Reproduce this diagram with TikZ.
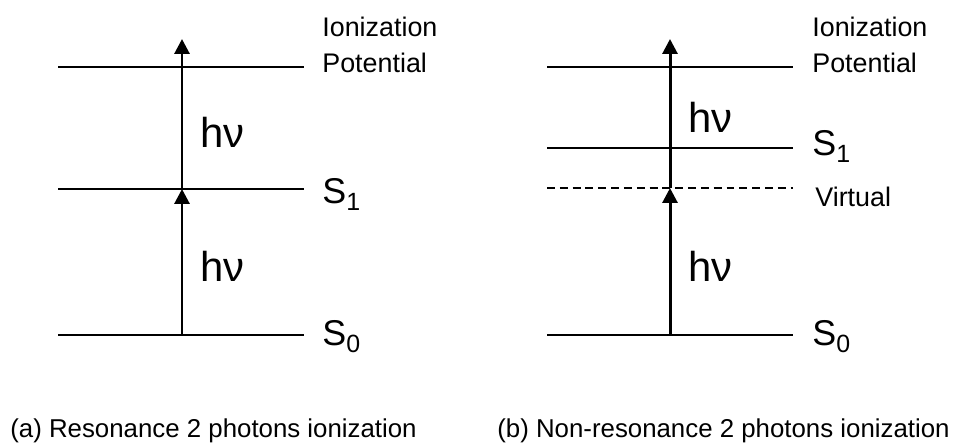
\documentclass[tikz,border=0pt]{standalone}
\usepackage{fontspec}
\setmainfont{Liberation Sans}
\usetikzlibrary{arrows.meta, positioning}

\tikzset{
  lvline/.style={line width=1.1pt},
  virtline/.style={line width=1.1pt, dash pattern=on 4.5pt off 2.8pt},
  photon/.style={line width=1.7pt, -{Triangle[length=8.5pt,width=8.5pt]}},
  hnu/.style={anchor=base west, inner sep=0pt, font=\fontsize{23.8}{28}\selectfont},
  lvlabel/.style={anchor=base west, inner sep=0pt, font=\fontsize{20.4}{24}\selectfont},
  smalllabel/.style={anchor=base west, inner sep=0pt, font=\fontsize{15.3}{18}\selectfont},
  captext/.style={anchor=base west, inner sep=0pt, font=\fontsize{14.7}{18}\selectfont},
}
\newcommand{\sublevel}[1]{\raisebox{-4pt}{\fontsize{14.2}{16}\selectfont #1}}

\begin{document}
\begin{tikzpicture}[x=0.02cm, y=-0.02cm]
  \useasboundingbox (0,0) rectangle (960,444);

  % (a) resonance: levels
  \coordinate (aIPw) at (58,67);  \coordinate (aIPe) at (304,67);
  \coordinate (aS1w) at (58,189); \coordinate (aS1e) at (304,189);
  \coordinate (aS0w) at (58,335); \coordinate (aS0e) at (304,335);
  \draw[lvline] (aIPw) -- (aIPe);
  \draw[lvline] (aS1w) -- (aS1e);
  \draw[lvline] (aS0w) -- (aS0e);

  % (a) photons
  \coordinate (aS0m) at (182,335);
  \coordinate (aS1m) at (182,189);
  \coordinate (aTop) at (182,39);
  \draw[photon] (aS0m) -- (aS1m);
  \draw[photon] (aS1m) -- (aTop);
  \node[hnu] (aHnuUp) at (200,147) {hν};
  \node[hnu] (aHnuLo) at (200,281) {hν};

  % (a) level labels
  \node[smalllabel] (aIon) at (322,36) {Ionization};
  \node[smalllabel] (aPot) at (322,72) {Potential};
  \node[lvlabel] (aS1) at (322,203) {S\sublevel{1}};
  \node[lvlabel] (aS0) at (322,345) {S\sublevel{0}};

  % (b) non-resonance: levels
  \coordinate (bIPw) at (547,67);  \coordinate (bIPe) at (793,67);
  \coordinate (bS1w) at (547,148); \coordinate (bS1e) at (793,148);
  \coordinate (bVw)  at (547,188); \coordinate (bVe)  at (793,188);
  \coordinate (bS0w) at (547,335); \coordinate (bS0e) at (793,335);
  \draw[lvline] (bIPw) -- (bIPe);
  \draw[lvline] (bS1w) -- (bS1e);
  \draw[virtline] (bVw) -- (bVe);
  \draw[lvline] (bS0w) -- (bS0e);

  % (b) photons
  \coordinate (bS0m) at (670,335);
  \coordinate (bVm)  at (670,188);
  \coordinate (bTop) at (670,39);
  \draw[photon] (bS0m) -- (bVm);
  \draw[photon] (bVm) -- (bTop);
  \node[hnu] (bHnuUp) at (688,132) {hν};
  \node[hnu] (bHnuLo) at (688,281) {hν};

  % (b) level labels
  \node[smalllabel] (bIon) at (812,36) {Ionization};
  \node[smalllabel] (bPot) at (812,72) {Potential};
  \node[lvlabel] (bS1) at (812,155) {S\sublevel{1}};
  \node[smalllabel] (bVirt) at (815,206) {Virtual};
  \node[lvlabel] (bS0) at (812,345) {S\sublevel{0}};

  % captions
  \node[captext] (capA) at (10,437) {(a) Resonance 2 photons ionization};
  \node[captext] (capB) at (497,437) {(b) Non-resonance 2 photons ionization};
\end{tikzpicture}
\end{document}
